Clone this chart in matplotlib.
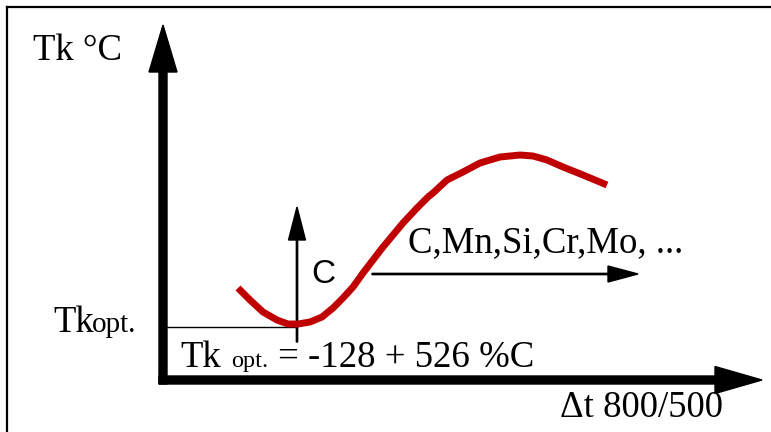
import matplotlib
matplotlib.use("Agg")
import matplotlib.pyplot as plt
from matplotlib.lines import Line2D

# curve (x: delta t, y: Tk, arbitrary units from the origin)
curve_x = [75, 87, 100, 114, 125, 135, 147, 159, 170, 180, 190, 200, 210, 220,
           230, 240, 254, 265, 270, 284, 300, 317, 337, 357, 370, 384, 400, 420, 444]
curve_y = [92, 80, 68, 60, 56, 56, 58, 63, 72, 82, 93, 107, 120, 133,
           145, 157, 172, 183, 187, 200, 208, 217, 223, 225, 224, 220, 213, 205, 195]

tk_opt_x = 134
tk_opt_y = 53

y_label = "Tk °C"
x_label = "Δt 800/500"
elements_label = "C,Mn,Si,Cr,Mo, ..."
formula = "= -128 + 526 %C"

SERIF = "Liberation Serif"
SANS = "Liberation Sans"
BIG = 26.5

W, H = 771, 432
fig = plt.figure(figsize=(W / 100, H / 100), dpi=100)
fig.patch.set_facecolor("white")

# axes box = the drawn diagram axes (origin at pixel 163, 380)
ax = fig.add_axes([163 / W, (H - 380) / H, 600 / W, 355 / H])
ax.set_xlim(0, 600)
ax.set_ylim(0, 355)
ax.axis("off")

# frame (top and left edges only)
fig.add_artist(Line2D([7 / W, 7 / W], [0, 1 - 7 / H], color="black", lw=1.6))
fig.add_artist(Line2D([7 / W, 1], [1 - 7 / H, 1 - 7 / H], color="black", lw=1.6))

# thick axis arrows
ax.arrow(0, -4, 0, 359, width=8, head_width=28, head_length=47,
         length_includes_head=True, color="black", clip_on=False)
ax.arrow(-4, 0, 603, 0, width=8, head_width=27, head_length=47,
         length_includes_head=True, color="black", clip_on=False)

# Tk opt guide line and C arrow
ax.plot([0, tk_opt_x], [tk_opt_y, tk_opt_y], color="black", lw=1.0, clip_on=False)
ax.arrow(tk_opt_x, 38, 0, 135, width=1.3, head_width=17, head_length=33,
         length_includes_head=True, color="black", clip_on=False)

# alloying elements arrow
ax.arrow(209, 106, 266, 0, width=1.3, head_width=16, head_length=30,
         length_includes_head=True, color="black", clip_on=False)

# red curve
ax.plot(curve_x, curve_y, color="#c00000", lw=5, solid_capstyle="butt",
        solid_joinstyle="round", clip_on=False)

# texts
ax.text(-130, 320, y_label, family=SERIF, fontsize=BIG, va="baseline", ha="left")
ax.text(-110, 48, "Tk", family=SERIF, fontsize=BIG, va="baseline", ha="left")
ax.text(-71, 48, "opt.", family=SERIF, fontsize=21, va="baseline", ha="left")
ax.text(17, 13, "Tk", family=SERIF, fontsize=BIG, va="baseline", ha="left")
ax.text(68, 13, "opt.", family=SERIF, fontsize=17.5, va="baseline", ha="left")
ax.text(115, 13, formula, family=SERIF, fontsize=BIG, va="baseline", ha="left")
ax.text(397, -37, x_label, family=SERIF, fontsize=BIG, va="baseline", ha="left")
ax.text(245, 128, elements_label, family=SERIF, fontsize=BIG, va="baseline", ha="left")
ax.text(148, 97, "C", family=SANS, fontsize=24, va="baseline", ha="left")

fig.savefig("out.png", dpi=100)
